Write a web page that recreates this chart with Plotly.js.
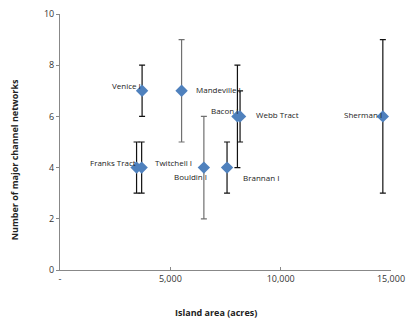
<!DOCTYPE html>
<html><head><meta charset="utf-8">
<script src="https://cdn.plot.ly/plotly-3.0.1.min.js"></script>
<style>body{margin:0;background:#fff}</style>
</head><body><div id="chart" style="width:407px;height:322px"></div>
<script>
const islands = ["Franks Tract","Twitchell I","Venice I","Mandeville I","Bouldin I","Brannan I","Bacon I","Webb Tract","Sherman I"];
const area    = [3470, 3700, 3720, 5510, 6520, 7570, 8040, 8160, 14630];
const networks= [4, 4, 7, 7, 4, 4, 6, 6, 6];
const errPlus = [1, 1, 1, 2, 2, 1, 2, 1, 3];
const errMinus= [1, 1, 1, 2, 2, 1, 2, 1, 3];
const grayBarIslands = ["Mandeville I","Bouldin I"];
const xTickVals = [0, 5000, 10000, 15000];
const xTickText = ["-", "5,000", "10,000", "15,000"];
const yTickVals = [0, 2, 4, 6, 8, 10];

// label placement: [xanchor, yanchor, xshift, yshift]
const labelPos = {
  "Franks Tract": ["right","middle",1,5],
  "Twitchell I": ["left","middle",11,5],
  "Venice I": ["right","middle",1,5],
  "Mandeville I": ["left","middle",12,1],
  "Bouldin I": ["right","middle",5,-9],
  "Brannan I": ["left","middle",14,-10],
  "Bacon I": ["right","middle",3,6],
  "Webb Tract": ["left","middle",14,2],
  "Sherman I": ["right","middle",1,2]
};

function subset(keep){
  const idx = islands.map((n,i)=>i).filter(i=>keep(islands[i]));
  return {
    x: idx.map(i=>area[i]), y: idx.map(i=>networks[i]),
    ep: idx.map(i=>errPlus[i]), em: idx.map(i=>errMinus[i]),
    t: idx.map(i=>islands[i])
  };
}
function trace(s, col){
  return {
    type:"scatter", mode:"markers", x:s.x, y:s.y, text:s.t,
    marker:{symbol:"diamond", size:9.5, color:"#4F81BD"},
    error_y:{type:"data", symmetric:false, array:s.ep, arrayminus:s.em,
      color:col, thickness:1.2, width:3},
    hoverinfo:"text", showlegend:false
  };
}
const sBlack = subset(n=>!grayBarIslands.includes(n));
const sGray = subset(n=>grayBarIslands.includes(n));

const annotations = islands.map((n,i)=>{
  const p = labelPos[n];
  return {x:area[i], y:networks[i], xref:"x", yref:"y", text:n, showarrow:false,
    xanchor:p[0], yanchor:p[1], xshift:p[2], yshift:p[3],
    font:{family:"Open Sans, Liberation Sans, sans-serif", size:8, color:"#222"}};
});
annotations.push({xref:"paper", yref:"paper", x:-0.135, y:0.43, textangle:-90,
  text:"<b>Number of major channel networks</b>", showarrow:false,
  xanchor:"center", yanchor:"middle",
  font:{family:"Open Sans, Liberation Sans, sans-serif", size:9, color:"#222"}});
annotations.push({xref:"paper", yref:"paper", x:0.47, y:-0.165,
  text:"<b>Island area (acres)</b>", showarrow:false,
  xanchor:"center", yanchor:"middle",
  font:{family:"Open Sans, Liberation Sans, sans-serif", size:9, color:"#222"}});

const layout = {
  width:407, height:322,
  margin:{l:60, r:16, t:14, b:52},
  paper_bgcolor:"#fff", plot_bgcolor:"#fff",
  font:{family:"Open Sans, Liberation Sans, sans-serif", size:9, color:"#333"},
  xaxis:{range:[0,15000], tickvals:xTickVals, ticktext:xTickText,
    showgrid:false, zeroline:false, showline:true, linecolor:"#888", linewidth:1,
    ticks:"inside", ticklen:3, tickcolor:"#888", tickfont:{size:9, color:"#333"}},
  yaxis:{range:[0,10], tickvals:yTickVals,
    showgrid:false, zeroline:false, showline:true, linecolor:"#888", linewidth:1,
    ticks:"outside", ticklen:3, tickcolor:"#888", tickfont:{size:9, color:"#333"}},
  annotations:annotations
};
Plotly.newPlot("chart", [trace(sGray,"#707070"), trace(sBlack,"#111")], layout, {staticPlot:true});
</script></body></html>
